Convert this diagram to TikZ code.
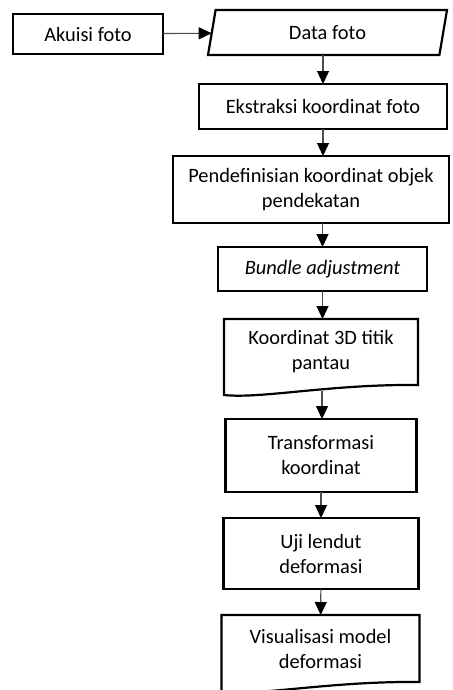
\documentclass[tikz,border=0pt]{standalone}
\usepackage{fontspec}
\setmainfont{Carlito}
\usetikzlibrary{shapes.geometric,arrows.meta,positioning,calc}

\begin{document}
\begin{tikzpicture}[
  box/.style={draw,line width=1.1pt,rectangle,align=center,font=\fontsize{10.2}{12.5}\selectfont,inner sep=2pt,outer sep=0pt},
  iobox/.style={box,trapezium,trapezium left angle=71,trapezium right angle=109,trapezium stretches body},
  docbox/.style={box,draw=none},
  arr/.style={-{Triangle[width=6pt,length=6.5pt,color=black]},line width=0.55pt,color=black!70}]
\useasboundingbox (0,0) rectangle (226pt,-345pt);
\node[box,minimum width=75pt,minimum height=20pt] (akuisi) at (44pt,-17pt) {Akuisi foto};
\node[iobox,minimum width=119.5pt,minimum height=22.5pt] (data) at (163.75pt,-16.25pt) {Data foto};
\node[box,below=14.5pt of data,xshift=-2.25pt,minimum width=124pt,minimum height=22.5pt] (ekstraksi) {Ekstraksi koordinat foto};
\node[box,below=13.5pt of ekstraksi,xshift=-6pt,minimum width=138pt,minimum height=33.5pt] (definisi) {Pendefinisian koordinat objek\\pendekatan};
\node[box,below=12pt of definisi,xshift=5.75pt,minimum width=104.5pt,minimum height=22pt] (bundle) {\itshape Bundle adjustment};
\node[docbox,below=14pt of bundle,xshift=-0.75pt,minimum width=97pt,minimum height=33pt] (koord) {Koordinat 3D titik\\pantau};
\node[box,below=17pt of koord,minimum width=95.5pt,minimum height=36.5pt] (transf) {Transformasi\\koordinat};
\node[box,below=13pt of transf,minimum width=97.5pt,minimum height=35.5pt] (uji) {Uji lendut\\deformasi};
\node[docbox,below=13pt of uji,xshift=-0.25pt,minimum width=99pt,minimum height=33.5pt] (visual) {Visualisasi model\\deformasi};
% document shapes
\foreach \d in {koord,visual}
  \draw[line width=1.1pt] (\d.north west) -- (\d.north east) -- (\d.south east)
    .. controls ($(\d.south)+(5pt,0.5pt)$) and ($(\d.south)+(-30pt,-7pt)$) .. ($(\d.south west)+(0,-5pt)$) -- cycle;
\coordinate (koordend) at ($(koord.south)+(0.5pt,-3pt)$);
% arrows
\draw[arr] (akuisi) -- (data);
\draw[arr] (data.south -| ekstraksi) -- (ekstraksi);
\draw[arr] (ekstraksi.south) -- (ekstraksi.south |- definisi.north);
\draw[arr] (bundle.north |- definisi.south) -- (bundle);
\draw[arr] (bundle.south) -- (bundle.south |- koord.north);
\draw[arr] (koordend) -- (koordend |- transf.north);
\draw[arr] (transf) -- (uji);
\draw[arr] (uji) -- (visual);
\end{tikzpicture}
\end{document}
